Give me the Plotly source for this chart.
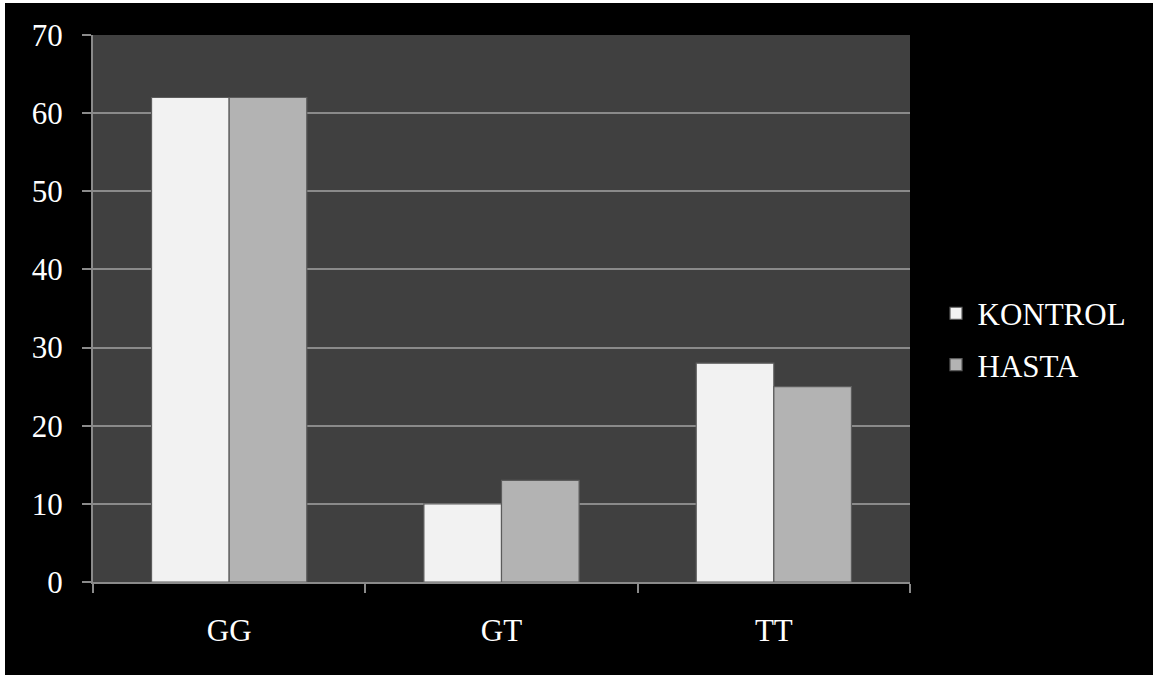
import plotly.graph_objects as go

# Genotype groups and percentages per group
genotypes = ["GG", "GT", "TT"]
kontrol = [62, 10, 28]
hasta = [62, 13, 25]
y_ticks = [0, 10, 20, 30, 40, 50, 60, 70]

FONT = "Liberation Serif, Times New Roman, serif"
FS = 31

fig = go.Figure()
fig.add_trace(go.Bar(
    name="KONTROL", x=genotypes, y=kontrol, legendgroup="k",
    marker=dict(color="#f2f2f2", line=dict(color="#5c5c5c", width=1.2)),
))
fig.add_trace(go.Bar(
    name="HASTA", x=genotypes, y=hasta, legendgroup="h",
    marker=dict(color="#b3b3b3", line=dict(color="#5c5c5c", width=1.2)),
))

W, H = 1153, 675
L, R, T, B = 93, 243, 35, 93

fig.update_layout(
    width=W, height=H,
    margin=dict(l=L, r=R, t=T, b=B),
    paper_bgcolor="#000000",
    plot_bgcolor="#404040",
    barmode="group",
    bargap=0.43,
    bargroupgap=0,
    font=dict(family=FONT, size=FS, color="#ffffff"),
    legend=dict(
        x=1.03, y=0.54, xanchor="left", yanchor="top",
        font=dict(family=FONT, size=FS, color="#ffffff"),
        bgcolor="rgba(0,0,0,0)",
        tracegroupgap=8,
        itemwidth=33,
    ),
    xaxis=dict(
        showgrid=False,
        showline=True, linecolor="#8a8a8a", linewidth=2,
        ticks="outside", tickson="boundaries", ticklen=9,
        tickcolor="#8a8a8a", tickwidth=2,
        ticklabelstandoff=20,
        tickfont=dict(family=FONT, size=FS, color="#ffffff"),
    ),
    yaxis=dict(
        range=[0, 70],
        tickvals=y_ticks,
        showgrid=True, gridcolor="#8a8a8a", gridwidth=2,
        showline=True, linecolor="#8a8a8a", linewidth=2,
        ticks="outside", ticklen=9, tickcolor="#8a8a8a", tickwidth=2,
        ticklabelstandoff=13,
        zeroline=False,
        tickfont=dict(family=FONT, size=FS, color="#ffffff"),
    ),
    shapes=[
        # thin white strips along the left and top edges of the page
        dict(type="rect", xref="paper", yref="paper",
             x0=-L / (W - L - R), x1=(5 - L) / (W - L - R),
             y0=-B / (H - T - B), y1=1 + T / (H - T - B),
             fillcolor="#ffffff", line_width=0, layer="above"),
        dict(type="rect", xref="paper", yref="paper",
             x0=-L / (W - L - R), x1=1 + R / (W - L - R),
             y0=1 + (T - 3) / (H - T - B), y1=1 + T / (H - T - B),
             fillcolor="#ffffff", line_width=0, layer="above"),
    ],
)

fig.write_html("out.html")
